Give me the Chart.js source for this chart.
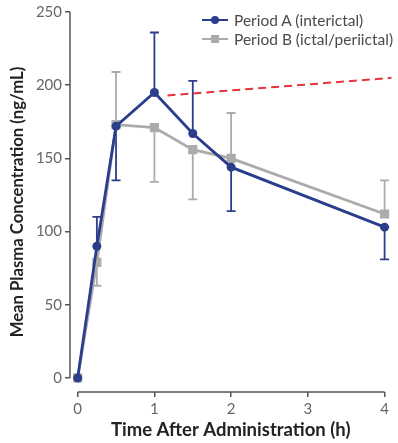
<!DOCTYPE html>
<html>
<head>
<meta charset="utf-8">
<script src="https://cdn.jsdelivr.net/npm/chart.js@4"></script>
<style>
  html, body { margin: 0; padding: 0; background: #fff; }
  #wrap { position: relative; width: 398px; height: 443px; }
  #legend { position: absolute; left: 202px; top: 10px; font: 15.5px Lato, sans-serif; color: #4a4a4a; }
  .item { display: flex; align-items: center; height: 19px; }
  .icon { position: relative; width: 26px; height: 10px; margin-right: 6px; }
  .icon .ln { position: absolute; left: 0; right: 0; top: 4px; height: 2.5px; }
  .icon .mk { position: absolute; left: 9px; top: 1px; width: 8px; height: 8px; }
</style>
</head>
<body>
<div id="wrap">
  <canvas id="pk" width="398" height="443"></canvas>
  <div id="legend">
    <div class="item"><span class="icon"><span class="ln" style="background:#2b3e8c"></span><span class="mk" style="background:#2b3e8c;border-radius:50%"></span></span>Period A (interictal)</div>
    <div class="item"><span class="icon"><span class="ln" style="background:#ababab"></span><span class="mk" style="background:#ababab"></span></span>Period B (ictal/periictal)</div>
  </div>
</div>
<script>
// time points (h)
const times = [0, 0.25, 0.5, 1, 1.5, 2, 4];
// Period A (interictal) mean, SD and which side of the bar is shown
const meanA = [0, 90, 172, 195, 167, 144, 103];
const sdA   = [0, 20, 37, 41, 36, 30, 22];
const sideA = [0, 1, -1, 1, 1, -1, -1];
// Period B (ictal/periictal)
const meanB = [0, 79, 173, 171, 156, 150, 112];
const sdB   = [0, 16, 36, 37, 34, 31, 23];
const sideB = [0, -1, 1, -1, -1, 1, 1];
// red dashed reference line
const refX = [1.17, 4.09];
const refY = [193, 205];

const xTicks = [0, 1, 2, 3, 4];
const yTicks = [0, 50, 100, 150, 200, 250];

const BLUE = '#2b3e8c';
const GRAY = '#ababab';

const toPts = (xs, ys) => xs.map((x, i) => ({ x: x, y: ys[i] }));

// one-sided error bars and detached axis lines
const errorBars = {
  id: 'errorBars',
  beforeDatasetsDraw(chart) {
    const ctx = chart.ctx;
    const xs = chart.scales.x, ys = chart.scales.y;
    ctx.save();
    ctx.strokeStyle = '#555';
    ctx.lineWidth = 1.5;
    ctx.beginPath();
    ctx.moveTo(chart.chartArea.left, ys.getPixelForValue(250));
    ctx.lineTo(chart.chartArea.left, ys.getPixelForValue(0));
    ctx.moveTo(xs.getPixelForValue(0), chart.chartArea.bottom);
    ctx.lineTo(xs.getPixelForValue(4), chart.chartArea.bottom);
    ctx.stroke();

    const sets = [[meanA, sdA, sideA, BLUE], [meanB, sdB, sideB, GRAY]];
    sets.forEach(([m, sd, side, col]) => {
      ctx.strokeStyle = col;
      ctx.lineWidth = 1.8;
      times.forEach((t, i) => {
        if (!side[i]) return;
        const px = xs.getPixelForValue(t);
        const py = ys.getPixelForValue(m[i]);
        const end = ys.getPixelForValue(m[i] + side[i] * sd[i]);
        ctx.beginPath();
        ctx.moveTo(px, py); ctx.lineTo(px, end);
        ctx.moveTo(px - 4.5, end); ctx.lineTo(px + 4.5, end);
        ctx.stroke();
      });
    });
    ctx.restore();
  }
};

new Chart(document.getElementById('pk'), {
  type: 'line',
  data: {
    datasets: [
      {
        label: 'Period A (interictal)',
        data: toPts(times, meanA),
        borderColor: BLUE,
        backgroundColor: BLUE,
        borderWidth: 2.8,
        pointStyle: 'circle',
        pointRadius: 4.5,
        pointBorderWidth: 0
      },
      {
        label: 'Period B (ictal/periictal)',
        data: toPts(times, meanB),
        borderColor: GRAY,
        backgroundColor: GRAY,
        borderWidth: 2.8,
        pointStyle: 'rect',
        pointRadius: 6.5,
        pointBorderWidth: 0
      },
      {
        label: 'reference',
        data: toPts(refX, refY),
        borderColor: '#e8323c',
        borderWidth: 2,
        borderDash: [8, 5],
        pointRadius: 0,
        clip: false
      }
    ]
  },
  options: {
    responsive: false,
    animation: false,
    layout: { padding: { top: 12, right: 0, bottom: 0, left: 0 } },
    plugins: { legend: { display: false }, tooltip: { enabled: false } },
    scales: {
      x: {
        type: 'linear',
        min: -0.1,
        max: 4.09,
        afterBuildTicks: s => { s.ticks = xTicks.map(v => ({ value: v })); },
        afterFit: s => { s.height = 51; },
        border: { display: false },
        grid: { display: true, drawOnChartArea: false, drawTicks: true, tickLength: 5, color: '#555', lineWidth: 1.5 },
        ticks: { color: '#666', font: { family: 'Lato', size: 15 }, padding: 3, maxRotation: 0 },
        title: { display: true, text: 'Time After Administration (h)', color: '#222', font: { family: 'Lato', size: 18.5, weight: 'bold' }, padding: { top: 0, bottom: 2 } }
      },
      y: {
        min: -9.6,
        max: 250,
        afterBuildTicks: s => { s.ticks = yTicks.map(v => ({ value: v })); },
        afterFit: s => { s.width = 70; },
        border: { display: false },
        grid: { display: true, drawOnChartArea: false, drawTicks: true, tickLength: 5, color: '#555', lineWidth: 1.5 },
        ticks: { color: '#666', font: { family: 'Lato', size: 15 }, padding: 3 },
        title: { display: true, text: 'Mean Plasma Concentration (ng/mL)', color: '#222', font: { family: 'Lato', size: 16.7, weight: 'bold' }, padding: { top: 8, bottom: 0 } }
      }
    }
  },
  plugins: [errorBars]
});
</script>
</body>
</html>
